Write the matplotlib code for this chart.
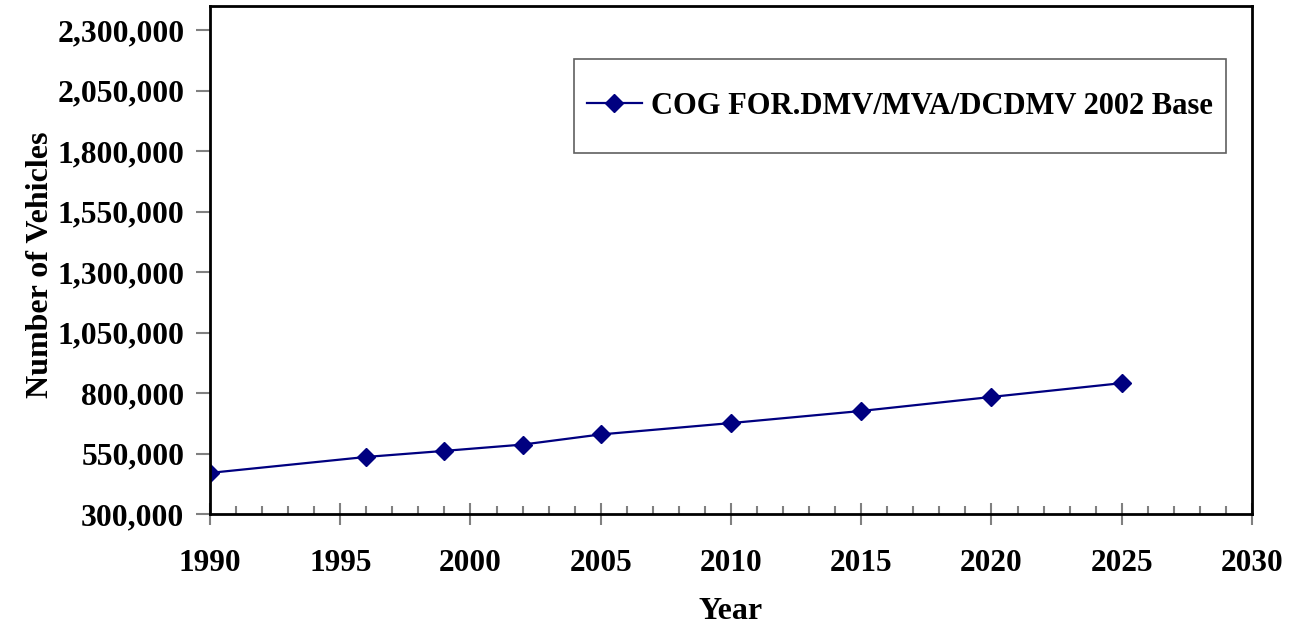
import matplotlib.pyplot as plt
from matplotlib.patches import Rectangle
from matplotlib.ticker import FuncFormatter, MultipleLocator

plt.rcParams['font.family'] = ['Liberation Serif', 'DejaVu Serif']
plt.rcParams['font.weight'] = 'bold'

years = [1990, 1996, 1999, 2002, 2005, 2010, 2015, 2020, 2025]
vehicles = [470000, 536000, 561000, 587000, 629000, 676000, 726000, 784000, 841000]
series_name = 'COG FOR.DMV/MVA/DCDMV 2002 Base'

fig = plt.figure(figsize=(12.9, 6.27), dpi=100)
ax = fig.add_axes([0.1628, 0.1802, 0.8077, 0.8102])

ax.plot(years, vehicles, color='#000080', lw=1.6, marker='D', ms=9,
        mec='#000080', mfc='#000080', label=series_name)

ax.set_xlim(1990, 2030)
ax.set_ylim(300000, 2400000)
ax.xaxis.set_major_locator(MultipleLocator(5))
ax.xaxis.set_minor_locator(MultipleLocator(1))
ax.set_yticks(range(300000, 2300001, 250000))
ax.yaxis.set_major_formatter(FuncFormatter(lambda v, p: f'{int(v):,}'))

for s in ax.spines.values():
    s.set_linewidth(2)
ax.tick_params(axis='y', direction='out', length=10, width=1.5, color='#808080',
               labelsize=22.8, pad=8.5)
ax.tick_params(axis='x', which='major', direction='inout', length=16, width=1.5,
               color='#808080', labelsize=22.5, pad=17)
ax.tick_params(axis='x', which='minor', direction='in', length=6, width=1.5,
               color='#808080')

ax.set_xlabel('Year', fontsize=23, fontweight='bold')
ax.set_ylabel('Number of Vehicles', fontsize=23, fontweight='bold')
ax.xaxis.set_label_coords(0.5, -0.163)
ax.yaxis.set_label_coords(-0.149, 0.49)

# legend, with a separate frame drawn around it
leg = ax.legend(loc='center left', bbox_to_anchor=(0.3618, 0.803), frameon=False,
                borderpad=0, borderaxespad=0, handlelength=1.8, handletextpad=0.3,
                prop={'weight': 'bold', 'size': 22})
ax.add_patch(Rectangle((0.3493, 0.7106), 0.6257, 0.185, transform=ax.transAxes,
                       fill=False, edgecolor='#606060', lw=1.2, clip_on=False))

fig.savefig('out.png', dpi=100)
